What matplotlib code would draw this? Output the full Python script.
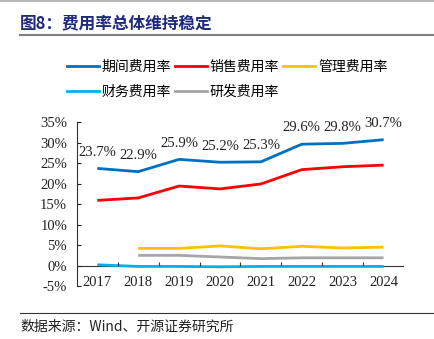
import matplotlib
matplotlib.use("Agg")
import matplotlib.pyplot as plt
from matplotlib.lines import Line2D
import numpy as np

plt.rcParams["font.family"] = ["Liberation Serif", "Noto Sans CJK SC"]

years = ["2017", "2018", "2019", "2020", "2021", "2022", "2023", "2024"]
period_rate = [23.7, 22.9, 25.9, 25.2, 25.3, 29.6, 29.8, 30.7]
sales_rate = [15.9, 16.5, 19.4, 18.7, 19.9, 23.4, 24.1, 24.5]
admin_rate = [None, 4.2, 4.2, 4.8, 4.1, 4.7, 4.3, 4.5]
finance_rate = [0.2, -0.2, -0.2, -0.3, -0.2, -0.2, -0.2, -0.2]
rd_rate = [None, 2.5, 2.5, 2.1, 1.7, 1.9, 1.9, 1.9]

series = [
    ("期间费用率", period_rate, "#0070C0"),
    ("销售费用率", sales_rate, "#FF0000"),
    ("管理费用率", admin_rate, "#FFC000"),
    ("财务费用率", finance_rate, "#00B0F0"),
    ("研发费用率", rd_rate, "#A6A6A6"),
]

cjk = ["Noto Sans CJK SC"]

fig = plt.figure(figsize=(4.34, 3.39), dpi=100)
ax = fig.add_axes([0.177, 0.156, 0.754, 0.484])

x = np.arange(len(years))
handles = {}
for name, vals, color in series:
    y = np.array([np.nan if v is None else v for v in vals], dtype=float)
    ax.plot(x, y, color=color, lw=2.0, solid_capstyle="butt")
    handles[name] = Line2D([0], [0], color=color, lw=2.0)

for i, v in enumerate(period_rate):
    ax.annotate("{:.1f}%".format(v), (x[i], v), xytext=(0, 7),
                textcoords="offset points", ha="center", va="bottom",
                fontsize=10.5, color="#222222")

ax.set_xlim(-0.5, len(years) - 0.5)
ax.set_ylim(-5, 35)
ax.set_yticks(range(-5, 36, 5))
ax.set_yticklabels(["{}%".format(t) for t in range(-5, 36, 5)], fontsize=10.5)
ax.tick_params(axis="y", direction="in", length=3, width=0.8, pad=7, colors="#222222")
ax.set_xticks(x)
ax.set_xticklabels(years, fontsize=10.5)
ax.tick_params(axis="x", length=0, pad=-7, colors="#222222")
for s in ["top", "right", "bottom"]:
    ax.spines[s].set_visible(False)
ax.spines["left"].set_color("#333333")
ax.spines["left"].set_linewidth(0.8)

# zero line with category boundary ticks
ax.axhline(0, color="#333333", lw=0.8, zorder=1)
bounds = np.arange(len(years) + 1) - 0.5
ax.vlines(bounds[1:], 0, 0.9, color="#333333", lw=0.8)

order = ["期间费用率", "财务费用率", "销售费用率", "研发费用率", "管理费用率"]
fig.legend([handles[n] for n in order], order, loc="upper left",
           bbox_to_anchor=(0.125, 0.86), ncol=3, frameon=False,
           prop={"family": cjk, "size": 10}, handlelength=2.3,
           handletextpad=0.2, columnspacing=0.3, labelspacing=0.75)

# title and source
fig.text(0.046, 0.932, "图8：费用率总体维持稳定", fontsize=12, fontweight="bold",
         color="#1F2A7A", family=cjk, va="center")
fig.add_artist(Line2D([0, 1], [0.998, 0.998], color="#AAAAAA", lw=1.2))
fig.add_artist(Line2D([0.046, 1], [0.897, 0.897], color="#808080", lw=1.5))
fig.add_artist(Line2D([0.046, 1], [0.077, 0.077], color="#333333", lw=0.8))
fig.text(0.046, 0.036, "数据来源：Wind、开源证券研究所", fontsize=10,
         color="#222222", family=cjk, va="center")

fig.savefig("out.png", dpi=100)
